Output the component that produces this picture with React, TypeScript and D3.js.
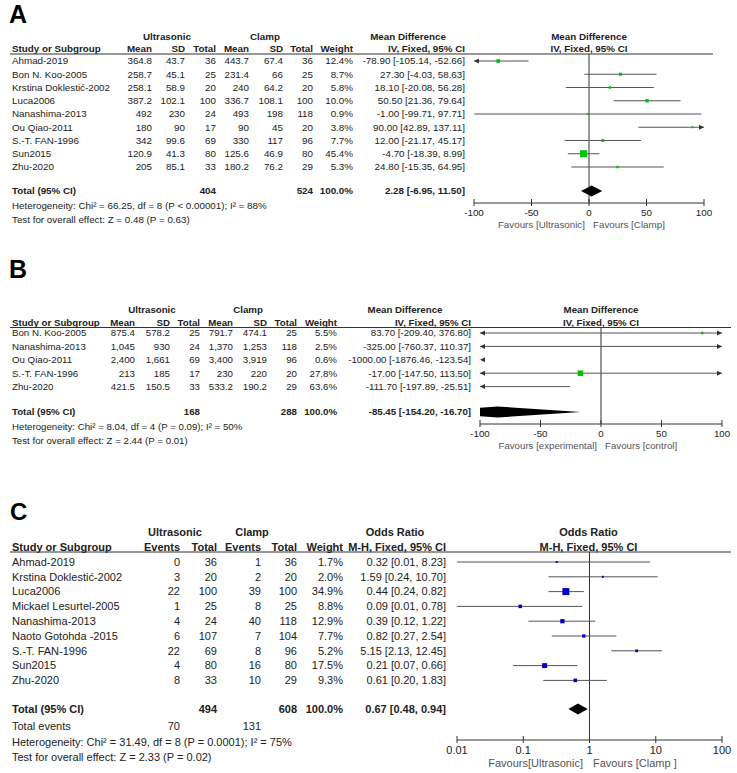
import React from 'react';
import * as d3 from 'd3';

// ---------- Panel A: Mean difference (continuous) ----------
const studiesA = ["Ahmad-2019", "Bon N. Koo-2005", "Krstina Doklestić-2002", "Luca2006", "Nanashima-2013", "Ou Qiao-2011", "S.-T. FAN-1996", "Sun2015", "Zhu-2020"];
const uMeanA = ["364.8", "258.7", "258.1", "387.2", "492", "180", "342", "120.9", "205"];
const uSdA = ["43.7", "45.1", "58.9", "102.1", "230", "90", "99.6", "41.3", "85.1"];
const uTotA = [36, 25, 20, 100, 24, 17, 69, 80, 33];
const cMeanA = ["443.7", "231.4", "240", "336.7", "493", "90", "330", "125.6", "180.2"];
const cSdA = ["67.4", "66", "64.2", "108.1", "198", "45", "117", "46.9", "76.2"];
const cTotA = [36, 25, 20, 100, 118, 20, 96, 80, 29];
const weightA = [12.4, 8.7, 5.8, 10.0, 0.9, 3.8, 7.7, 45.4, 5.3];
const estA = [-78.90, 27.30, 18.10, 50.50, -1.00, 90.00, 12.00, -4.70, 24.80];
const loA = [-105.14, -4.03, -20.08, 21.36, -99.71, 42.89, -21.17, -18.39, -15.35];
const hiA = [-52.66, 58.63, 56.28, 79.64, 97.71, 137.11, 45.17, 8.99, 64.95];
const totalA = [2.28, -6.95, 11.50];
const totalsNA = ["404", "524", "100.0%"];
const ticksA = [-100, -50, 0, 50, 100];
const footA = ["Heterogeneity: Chi² = 66.25, df = 8 (P < 0.00001); I² = 88%", "Test for overall effect: Z = 0.48 (P = 0.63)"];

// ---------- Panel B ----------
const studiesB = ["Bon N. Koo-2005", "Nanashima-2013", "Ou Qiao-2011", "S.-T. FAN-1996", "Zhu-2020"];
const uMeanB = ["875.4", "1,045", "2,400", "213", "421.5"];
const uSdB = ["578.2", "930", "1,661", "185", "150.5"];
const uTotB = [25, 24, 69, 17, 33];
const cMeanB = ["791.7", "1,370", "3,400", "230", "533.2"];
const cSdB = ["474.1", "1,253", "3,919", "220", "190.2"];
const cTotB = [25, 118, 96, 20, 29];
const weightB = [5.5, 2.5, 0.6, 27.8, 63.6];
const estB = [83.70, -325.00, -1000.00, -17.00, -111.70];
const loB = [-209.40, -760.37, -1876.46, -147.50, -197.89];
const hiB = [376.80, 110.37, -123.54, 113.50, -25.51];
const totalB = [-85.45, -154.20, -16.70];
const totalsNB = ["168", "288", "100.0%"];
const ticksB = [-100, -50, 0, 50, 100];
const footB = ["Heterogeneity: Chi² = 8.04, df = 4 (P = 0.09); I² = 50%", "Test for overall effect: Z = 2.44 (P = 0.01)"];

// ---------- Panel C: Odds ratio ----------
const studiesC = ["Ahmad-2019", "Krstina Doklestić-2002", "Luca2006", "Mickael Lesurtel-2005", "Nanashima-2013", "Naoto Gotohda -2015", "S.-T. FAN-1996", "Sun2015", "Zhu-2020"];
const uEvC = [0, 3, 22, 1, 4, 6, 22, 4, 8];
const uTotC = [36, 20, 100, 25, 24, 107, 69, 80, 33];
const cEvC = [1, 2, 39, 8, 40, 7, 8, 16, 10];
const cTotC = [36, 20, 100, 25, 118, 104, 96, 80, 29];
const weightC = [1.7, 2.0, 34.9, 8.8, 12.9, 7.7, 5.2, 17.5, 9.3];
const estC = [0.32, 1.59, 0.44, 0.09, 0.39, 0.82, 5.15, 0.21, 0.61];
const loC = [0.01, 0.24, 0.24, 0.01, 0.12, 0.27, 2.13, 0.07, 0.20];
const hiC = [8.23, 10.70, 0.82, 0.78, 1.22, 2.54, 12.45, 0.66, 1.83];
const totalC = [0.67, 0.48, 0.94];
const totalsNC = ["494", "608", "100.0%"];
const totalEventsC = ["70", "131"];
const ticksC = [0.01, 0.1, 1, 10, 100];
const footC = ["Heterogeneity: Chi² = 31.49, df = 8 (P = 0.0001); I² = 75%", "Test for overall effect: Z = 2.33 (P = 0.02)"];

const FONT = '"Liberation Sans", Arial, Helvetica, sans-serif';
const TXT = "#222";

const f2 = (v: number) => v.toFixed(2);
const pct = (v: number) => v.toFixed(1) + "%";

function T(props: any) {
  const { x, y, children, anchor = "start", bold = false, fs, fill = TXT } = props;
  return (
    <text x={x} y={y} dy="0.35em" textAnchor={anchor} fontSize={fs} fontWeight={bold ? "bold" : "normal"} fill={fill} fontFamily={FONT}>
      {children}
    </text>
  );
}

function Forest(p: any) {
  const x = p.scale;
  const [dmin, dmax] = x.domain();
  const fs = p.fs;
  const rowY = (i: number) => p.rowY0 + i * p.rowStep;
  const [px0, px1] = x.range();
  const clipId = "clip" + p.letter;
  const arrowL = (y: number) => `${px0},${y} ${px0 + 5},${y - 2.5} ${px0 + 5},${y + 2.5}`;
  const arrowR = (y: number) => `${px1},${y} ${px1 - 5},${y - 2.5} ${px1 - 5},${y + 2.5}`;
  const [te, tl, th] = p.total;
  return (
    <g>
      <defs>
        <clipPath id={clipId}>
          <rect x={px0} y={0} width={px1 - px0} height={773} />
        </clipPath>
      </defs>
      <text x={p.letterX} y={p.letterY} fontSize={p.letterFs} fontWeight="bold" fontFamily={FONT} fill="#000">{p.letter}</text>
      {p.groupHeaders.map((g: any, i: number) => (
        <T key={"g" + i} x={g.x} y={p.h1Y} anchor="middle" bold fs={fs}>{g.text}</T>
      ))}
      <T x={p.effH1X} y={p.h1Y} anchor="middle" bold fs={fs}>{p.effH1}</T>
      <T x={(px0 + px1) / 2 + p.plotHdrDx} y={p.h1Y} anchor="middle" bold fs={fs}>{p.effH1}</T>
      <T x={12} y={p.h2Y} bold fs={fs}>Study or Subgroup</T>
      {p.colHeaders.map((h: string, i: number) => (
        <T key={"h" + i} x={p.colX[i]} y={p.h2Y} anchor="end" bold fs={fs}>{h}</T>
      ))}
      <T x={p.effX} y={p.h2Y} anchor="end" bold fs={fs}>{p.effH2}</T>
      <T x={(px0 + px1) / 2 + p.plotHdrDx} y={p.h2Y} anchor="middle" bold fs={fs}>{p.effH2}</T>
      <line x1={10} x2={p.lineX2} y1={p.lineY} y2={p.lineY} stroke="#333" strokeWidth={1.2} />

      {p.studies.map((s: string, i: number) => (
        <g key={"r" + i}>
          <T x={12} y={rowY(i)} fs={fs}>{s}</T>
          {p.cols.map((c: any[], j: number) => (
            <T key={j} x={p.colX[j]} y={rowY(i)} anchor="end" fs={fs}>{c[i]}</T>
          ))}
          <T x={p.colX[p.cols.length]} y={rowY(i)} anchor="end" fs={fs}>{pct(p.weight[i])}</T>
          <T x={p.effX} y={rowY(i)} anchor="end" fs={fs}>{`${f2(p.est[i])} [${f2(p.lo[i])}, ${f2(p.hi[i])}]`}</T>
        </g>
      ))}

      {/* plot marks */}
      <line x1={x(p.ref)} x2={x(p.ref)} y1={p.lineY} y2={p.axisY} stroke="#333" strokeWidth={1} />
      {p.studies.map((_: string, i: number) => {
        const y = rowY(i);
        const lo = p.lo[i], hi = p.hi[i], e = p.est[i];
        const els: any[] = [];
        if (hi < dmin) {
          els.push(<polygon key="al" points={arrowL(y)} fill="#333" />);
          return <g key={"m" + i}>{els}</g>;
        }
        if (lo > dmax) {
          els.push(<polygon key="ar" points={arrowR(y)} fill="#333" />);
          return <g key={"m" + i}>{els}</g>;
        }
        const a = Math.max(lo, dmin), b = Math.min(hi, dmax);
        els.push(<line key="l" x1={x(a)} x2={x(b)} y1={y} y2={y} stroke="#555" strokeWidth={1} />);
        if (lo < dmin) els.push(<polygon key="al" points={arrowL(y)} fill="#333" />);
        if (hi > dmax) els.push(<polygon key="ar" points={arrowR(y)} fill="#333" />);
        if (e >= dmin && e <= dmax) {
          const side = Math.max(2, p.sqK * Math.sqrt(p.weight[i]));
          els.push(<rect key="s" x={x(e) - side / 2} y={y - side / 2} width={side} height={side} fill={p.color} />);
        }
        return <g key={"m" + i}>{els}</g>;
      })}

      {/* total row */}
      <T x={12} y={p.totalY} bold fs={fs}>Total (95% CI)</T>
      {p.totalsN.map((t: string, i: number) => (
        <T key={"tn" + i} x={p.totalsX[i]} y={p.totalY} anchor="end" bold fs={fs}>{t}</T>
      ))}
      <T x={p.effX} y={p.totalY} anchor="end" bold fs={fs}>{`${f2(te)} [${f2(tl)}, ${f2(th)}]`}</T>
      <polygon
        clipPath={`url(#${clipId})`}
        points={`${x(tl)},${p.totalY} ${x(te)},${p.totalY - 5.5} ${x(th)},${p.totalY} ${x(te)},${p.totalY + 5.5}`}
        fill="#000"
      />
      {p.extraRows && p.extraRows.map((r: any, i: number) => (
        <g key={"ex" + i}>
          <T x={12} y={r.y} fs={fs}>{r.label}</T>
          {r.vals.map((v: string, j: number) => (
            <T key={j} x={r.xs[j]} y={r.y} anchor="end" fs={fs}>{v}</T>
          ))}
        </g>
      ))}
      {p.foot.map((f: string, i: number) => (
        <T key={"f" + i} x={12} y={p.footY[i]} fs={fs}>{f}</T>
      ))}

      {/* axis */}
      <line x1={px0} x2={px1} y1={p.axisY} y2={p.axisY} stroke="#333" strokeWidth={1} />
      {p.ticks.map((t: number, i: number) => (
        <g key={"t" + i}>
          <line x1={x(t)} x2={x(t)} y1={p.axisY - 4} y2={p.axisY + 3} stroke="#333" strokeWidth={1} />
          <T x={x(t)} y={p.tickY} anchor="middle" fs={fs}>{String(t)}</T>
        </g>
      ))}
      <T x={p.favLX} y={p.favY} anchor="end" fs={fs} fill="#555">{p.favL}</T>
      <T x={p.favRX} y={p.favY} anchor="start" fs={fs} fill="#555">{p.favR}</T>
    </g>
  );
}

export default function App() {
  const xA = d3.scaleLinear().domain([-100, 100]).range([474, 704]);
  const xB = d3.scaleLinear().domain([-100, 100]).range([480, 722]);
  const xC = d3.scaleLog().domain([0.01, 100]).range([457, 722]);
  return (
    <svg width={737} height={773} style={{ position: "absolute", left: 0, top: 0, background: "#fff" }}>
      <rect x={0} y={0} width={737} height={773} fill="#fff" />
      <Forest
        letter="A" letterX={9} letterY={23} letterFs={25}
        fs={9.8}
        h1Y={37} h2Y={49} lineY={54} lineX2={713}
        groupHeaders={[{ text: "Ultrasonic", x: 167 }, { text: "Clamp", x: 265 }]}
        colHeaders={["Mean", "SD", "Total", "Mean", "SD", "Total", "Weight"]}
        colX={[152, 185, 216, 249, 283, 313, 353]}
        cols={[uMeanA, uSdA, uTotA, cMeanA, cSdA, cTotA]}
        studies={studiesA} weight={weightA} est={estA} lo={loA} hi={hiA}
        effH1="Mean Difference" effH2="IV, Fixed, 95% CI" effH1X={408} effX={465} plotHdrDx={0}
        rowY0={61} rowStep={13.25}
        scale={xA} ref={0} color="#00c400" sqK={1.05}
        totalY={191} total={totalA} totalsN={totalsNA} totalsX={[216, 313, 353]}
        foot={footA} footY={[206, 220]}
        axisY={203} ticks={ticksA} tickY={213}
        favL="Favours [Ultrasonic]" favR="Favours [Clamp]" favLX={585} favRX={593} favY={225}
      />
      <Forest
        letter="B" letterX={9} letterY={278} letterFs={25}
        fs={9.7}
        h1Y={310} h2Y={323} lineY={327.5} lineX2={731}
        groupHeaders={[{ text: "Ultrasonic", x: 152 }, { text: "Clamp", x: 248 }]}
        colHeaders={["Mean", "SD", "Total", "Mean", "SD", "Total", "Weight"]}
        colX={[135, 170, 200, 233, 267, 297, 337]}
        cols={[uMeanB, uSdB, uTotB, cMeanB, cSdB, cTotB]}
        studies={studiesB} weight={weightB} est={estB} lo={loB} hi={hiB}
        effH1="Mean Difference" effH2="IV, Fixed, 95% CI" effH1X={405} effX={471} plotHdrDx={0}
        rowY0={333} rowStep={13.4}
        scale={xB} ref={0} color="#00c400" sqK={1.05}
        totalY={412} total={totalB} totalsN={totalsNB} totalsX={[200, 297, 337]}
        foot={footB} footY={[427, 441]}
        axisY={424} ticks={ticksB} tickY={434}
        favL="Favours [experimental]" favR="Favours [control]" favLX={597} favRX={605} favY={446}
      />
      <Forest
        letter="C" letterX={10} letterY={520} letterFs={24}
        fs={11}
        h1Y={532} h2Y={547} lineY={552} lineX2={731}
        groupHeaders={[{ text: "Ultrasonic", x: 175 }, { text: "Clamp", x: 252 }]}
        colHeaders={["Events", "Total", "Events", "Total", "Weight"]}
        colX={[180, 217, 261, 297, 343]}
        cols={[uEvC, uTotC, cEvC, cTotC]}
        studies={studiesC} weight={weightC} est={estC} lo={loC} hi={hiC}
        effH1="Odds Ratio" effH2="M-H, Fixed, 95% CI" effH1X={395} effX={446} plotHdrDx={-1}
        rowY0={562} rowStep={14.8}
        scale={xC} ref={1} color="#0000c8" sqK={1.18}
        totalY={709} total={totalC} totalsN={totalsNC} totalsX={[217, 297, 343]}
        extraRows={[{ label: "Total events", y: 726, vals: totalEventsC, xs: [180, 261] }]}
        foot={footC} footY={[742, 757]}
        axisY={740} ticks={ticksC} tickY={750}
        favL="Favours[Ultrasonic]" favR="Favours [Clamp ]" favLX={583} favRX={593} favY={763}
      />
    </svg>
  );
}
